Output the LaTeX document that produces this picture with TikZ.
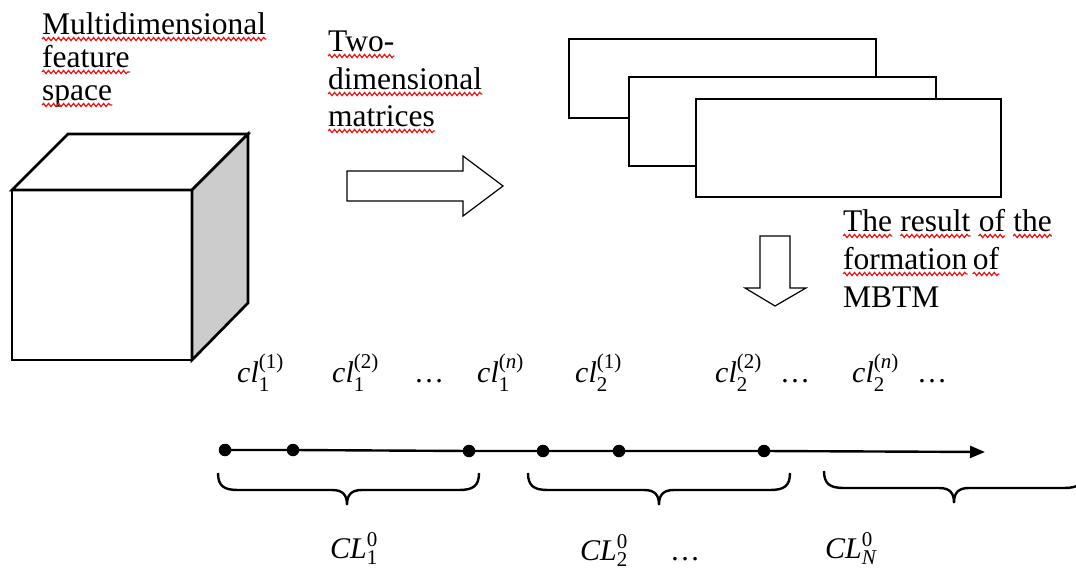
\documentclass[tikz,border=0pt]{standalone}
\usepackage{fontspec}
\usepackage{amsmath}
\setmainfont{Liberation Serif}
\usetikzlibrary{arrows.meta,decorations.pathmorphing}
\definecolor{cubeside}{gray}{0.8}
\definecolor{spellred}{RGB}{235,20,20}

% curly brace opening downwards: left x, tip x, right x, top y
\newcommand\mybrace[4]{%
  \draw[bracepath] (#1,#4) .. controls (#1,#4+13) and (#1+6,#4+17) .. (#1+20,#4+17)
    -- (#2-15,#4+17) .. controls (#2-4,#4+17) and (#2,#4+22) .. (#2,#4+32)
    .. controls (#2,#4+22) and (#2+4,#4+17) .. (#2+15,#4+17)
    -- (#3-20,#4+17) .. controls (#3-6,#4+17) and (#3,#4+13) .. (#3,#4);}

\begin{document}
\begin{tikzpicture}[x=1pt,y=-1pt,
  outline/.style={draw=black,line width=2.7pt,line join=miter},
  blockarrow/.style={draw=black,line width=1.2pt,fill=white,line join=miter},
  heading/.style={anchor=base west,inner sep=0pt,font=\fontsize{31.5}{36}\selectfont},
  squiggle/.style={draw=spellred,line width=1.2pt,decorate,
    decoration={snake,amplitude=1.6pt,segment length=5pt}},
  lbl/.style={anchor=base west,inner sep=0pt,font=\fontsize{30}{36}\selectfont},
  dot/.style={circle,fill=black,inner sep=0pt,minimum size=12.5pt},
  bracepath/.style={draw=black,line width=2.4pt},
]
\useasboundingbox (0,0) rectangle (1076,569);

% --- cube: the multidimensional feature space
\coordinate (fa) at (12,190);
\coordinate (fb) at (192,190);
\coordinate (fc) at (192,360);
\coordinate (fd) at (12,360);
\coordinate (ba) at (68,134);
\coordinate (bb) at (248,134);
\coordinate (bc) at (248,303);
\draw[outline,fill=white] (fa) -- (fb) -- (fc) -- (fd) -- cycle;
\draw[outline,fill=white] (fa) -- (ba) -- (bb) -- (fb) -- cycle;
\draw[outline,fill=cubeside] (fb) -- (bb) -- (bc) -- (fc) -- cycle;

% --- stack of two-dimensional matrices
\draw[outline,fill=white] (569,39) rectangle (876,118);
\draw[outline,fill=white] (629,77) rectangle (936,166);
\draw[outline,fill=white] (696,99) rectangle (1001,197);

% --- block arrows
\draw[blockarrow] (347,171) -- (463,171) -- (463,156) -- (503,186) -- (463,216)
  -- (463,201) -- (347,201) -- cycle;
\draw[blockarrow] (760,236) -- (790,236) -- (790,288) -- (806,288) -- (775,306)
  -- (745,288) -- (760,288) -- cycle;

% --- captions
\node[heading] (m1) at (42,35) {Multidimensional};
\node[heading] (m2) at (42,68) {feature};
\node[heading] (m3) at (42,101) {space};

\node[heading] (d1) at (328,52) {Two-};
\node[heading] (d2) at (328,90) {dimensional};
\node[heading] (d3) at (328,127) {matrices};

\node[heading] (r1) at (843,232) {The};
\node[heading] (r2) at ([xshift=7.9pt]r1.base east) {result};
\node[heading] (r3) at ([xshift=7.9pt]r2.base east) {of};
\node[heading] (r4) at ([xshift=7.9pt]r3.base east) {the};
\node[heading] (f1) at (843,270) {formation};
\node[heading] (f2) at ([xshift=5pt]f1.base east) {of};
\node[heading] (mb) at (843,308) {MBTM};

\foreach \w in {m1,m2,m3,d1,d2,d3,r1,r2,r3,r4,f1,f2}
  \draw[squiggle] ([yshift=-4pt]\w.base west) -- ([yshift=-4pt]\w.base east);

% --- sequence of clusters on the time axis
\node[lbl] (a1) at (237,382) {$\textit{cl}_{\text{1}}^{\text{(1)}}$};
\node[lbl] (a2) at (332,382) {$\textit{cl}_{\text{1}}^{\text{(2)}}$};
\node[lbl] (e1) at (414,382) {…};
\node[lbl] (a3) at (477,382) {$\textit{cl}_{\text{1}}^{\text{(\textit{n})}}$};
\node[lbl] (b1) at (575,382) {$\textit{cl}_{\text{2}}^{\text{(1)}}$};
\node[lbl] (b2) at (715,382) {$\textit{cl}_{\text{2}}^{\text{(2)}}$};
\node[lbl] (e2) at (780,382) {…};
\node[lbl] (b3) at (852,382) {$\textit{cl}_{\text{2}}^{\text{(\textit{n})}}$};
\node[lbl] (e3) at (917,382) {…};

\coordinate (c1) at (225,450);
\coordinate (c2) at (293,450);
\coordinate (c3) at (469,451);
\coordinate (c4) at (543,451);
\coordinate (c5) at (619,451);
\coordinate (c6) at (764,451);
\coordinate (tend) at (985,452);
\draw[line width=2.4pt,-{Triangle[length=15pt,width=12pt]}]
  (c1) -- (c2) -- (c3) -- (c4) -- (c5) -- (c6) -- (tend);
\foreach \i in {1,...,6} \node[dot] (p\i) at (c\i) {};

% --- groups of clusters
\mybrace{218}{347}{479}{473}
\mybrace{528}{659}{790}{473}
\mybrace{824}{954}{1084}{471}

\node[lbl] (g1) at (330,558) {$\textit{CL}_{\text{1}}^{\text{0}}$};
\node[lbl] (g2) at (580,560) {$\textit{CL}_{\text{2}}^{\text{0}}$};
\node[lbl] (e4) at (670,560) {…};
\node[lbl] (g3) at (825,558) {$\textit{CL}_{\textit{N}}^{\text{0}}$};
\end{tikzpicture}
\end{document}
